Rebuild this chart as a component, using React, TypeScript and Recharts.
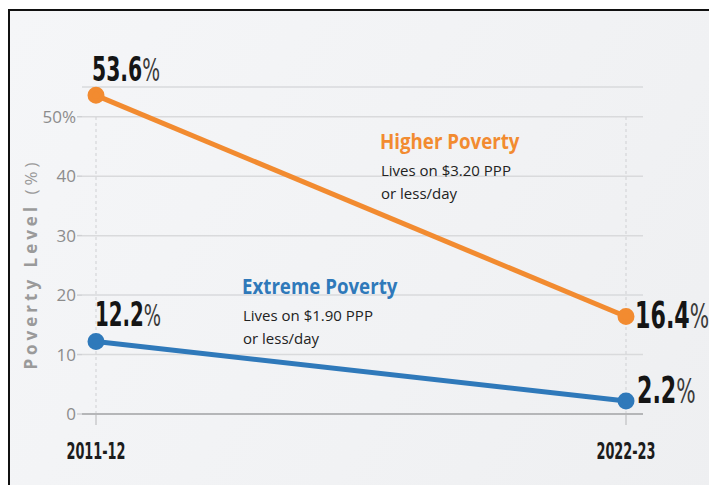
import React from "react";
import {
  LineChart,
  Line,
  CartesianGrid,
  XAxis,
  YAxis,
  ReferenceLine,
  LabelList,
} from "recharts";

const years = ["2011-12", "2022-23"];
const higherPoverty = [53.6, 16.4];
const extremePoverty = [12.2, 2.2];
const yTicks = [0, 10, 20, 30, 40, 50];

const ORANGE = "#F28B30";
const BLUE = "#2F79BA";
const NUM_FONT = "'DejaVu Sans', sans-serif";
const TEXT_FONT = "'Open Sans', 'Lato', sans-serif";
const SQUEEZE = 0.6; // fake a condensed face by squashing horizontally

const data = years.map((year, i) => ({
  year,
  higher: higherPoverty[i],
  extreme: extremePoverty[i],
}));

// where each point label sits relative to its dot, and its size
const labelOffsets: Record<string, { dx: number; dy: number; size: number }[]> = {
  higher: [
    { dx: -4, dy: -14, size: 34 },
    { dx: 9, dy: 12, size: 37 },
  ],
  extreme: [
    { dx: -1, dy: -15, size: 33 },
    { dx: 11, dy: 2, size: 37 },
  ],
};

const makeLabel = (series: string) => (props: any) => {
  const { x, y, value, index } = props;
  const off = labelOffsets[series][index];
  return (
    <g transform={`translate(${x + off.dx},${y + off.dy}) scale(${SQUEEZE},1)`}>
      <text x={0} y={0} fontFamily={NUM_FONT} fontSize={off.size} fontWeight={700} fill="#151515">
        {value.toFixed(1)}
        <tspan fontWeight={400} fontSize={off.size * 0.92} fill="#3a3a3a">
          %
        </tspan>
      </text>
    </g>
  );
};

const YTick = (props: any) => {
  const { y, payload } = props;
  return (
    <text
      x={76}
      y={y + 6}
      textAnchor="end"
      fontFamily={TEXT_FONT}
      fontSize={17}
      fill="#8c8c8c"
    >
      {payload.value === 50 ? "50%" : payload.value}
    </text>
  );
};

const XTick = (props: any) => {
  const { x, y, payload } = props;
  return (
    <g transform={`translate(${x},${y + 32}) scale(0.56,1)`}>
      <text
        x={0}
        y={0}
        textAnchor="middle"
        fontFamily={NUM_FONT}
        fontSize={23}
        fontWeight={700}
        fill="#1c1c1c"
      >
        {payload.value}
      </text>
    </g>
  );
};

const Note = ({ x, y, title, color, lines }: any) => (
  <g>
    <g transform={`translate(${x},${y}) scale(0.85,1)`}>
      <text x={0} y={0} fontFamily={TEXT_FONT} fontSize={22} fontWeight={700} fill={color}>
        {title}
      </text>
    </g>
    {lines.map((t: string, i: number) => (
      <text
        key={t}
        x={x + 1}
        y={y + 27 + i * 23}
        fontFamily={TEXT_FONT}
        fontSize={15}
        fill="#222"
      >
        {t}
      </text>
    ))}
  </g>
);

export default function App() {
  return (
    <div
      style={{
        position: "absolute",
        left: 0,
        top: 0,
        width: 709,
        height: 485,
        background: "#ffffff",
        overflow: "hidden",
      }}
    >
      <div
        style={{
          position: "absolute",
          left: 8,
          top: 9,
          width: 709,
          height: 485,
          borderLeft: "2px solid #111",
          borderTop: "2px solid #111",
          background: "linear-gradient(120deg, #f5f6f8 0%, #f1f2f4 60%, #eeeff1 100%)",
        }}
      />
      <div style={{ position: "absolute", left: 0, top: 0 }}>
        <LineChart
          width={709}
          height={485}
          data={data}
          margin={{ top: 87, right: 66, bottom: 31, left: 0 }}
        >
          <CartesianGrid vertical={false} stroke="#d9dadc" strokeWidth={1.5} />
          {years.map((yr) => (
            <ReferenceLine
              key={yr}
              segment={[
                { x: yr, y: 0 },
                { x: yr, y: 50 },
              ]}
              stroke="#cfd0d3"
              strokeDasharray="3 3"
            />
          ))}
          <XAxis
            dataKey="year"
            padding={{ left: 14, right: 17 }}
            height={40}
            axisLine={{ stroke: "#b5b6b8", strokeWidth: 2 }}
            tickLine={{ stroke: "#b5b6b8" }}
            tickSize={11}
            tick={<XTick />}
          />
          <YAxis
            width={82}
            domain={[0, 55]}
            ticks={yTicks}
            axisLine={false}
            tickLine={{ stroke: "#cfd0d3", strokeWidth: 1.5 }}
            tickSize={5}
            tick={<YTick />}
          />
          <Line
            dataKey="higher"
            stroke={ORANGE}
            strokeWidth={5}
            dot={{ r: 6, fill: ORANGE, stroke: ORANGE }}
            isAnimationActive={false}
          >
            <LabelList dataKey="higher" content={makeLabel("higher")} />
          </Line>
          <Line
            dataKey="extreme"
            stroke={BLUE}
            strokeWidth={5}
            dot={{ r: 6, fill: BLUE, stroke: BLUE }}
            isAnimationActive={false}
          >
            <LabelList dataKey="extreme" content={makeLabel("extreme")} />
          </Line>
          <text
            transform="translate(37, 264) rotate(-90)"
            textAnchor="middle"
            fontFamily={TEXT_FONT}
            fontSize={17}
            fontWeight={700}
            letterSpacing={4}
            fill="#9a9a9a"
          >
            Poverty Level
            <tspan fontWeight={400}> (%)</tspan>
          </text>
          <Note
            x={380}
            y={149}
            title="Higher Poverty"
            color={ORANGE}
            lines={["Lives on $3.20 PPP", "or less/day"]}
          />
          <Note
            x={242}
            y={294}
            title="Extreme Poverty"
            color={BLUE}
            lines={["Lives on $1.90 PPP", "or less/day"]}
          />
        </LineChart>
      </div>
    </div>
  );
}
